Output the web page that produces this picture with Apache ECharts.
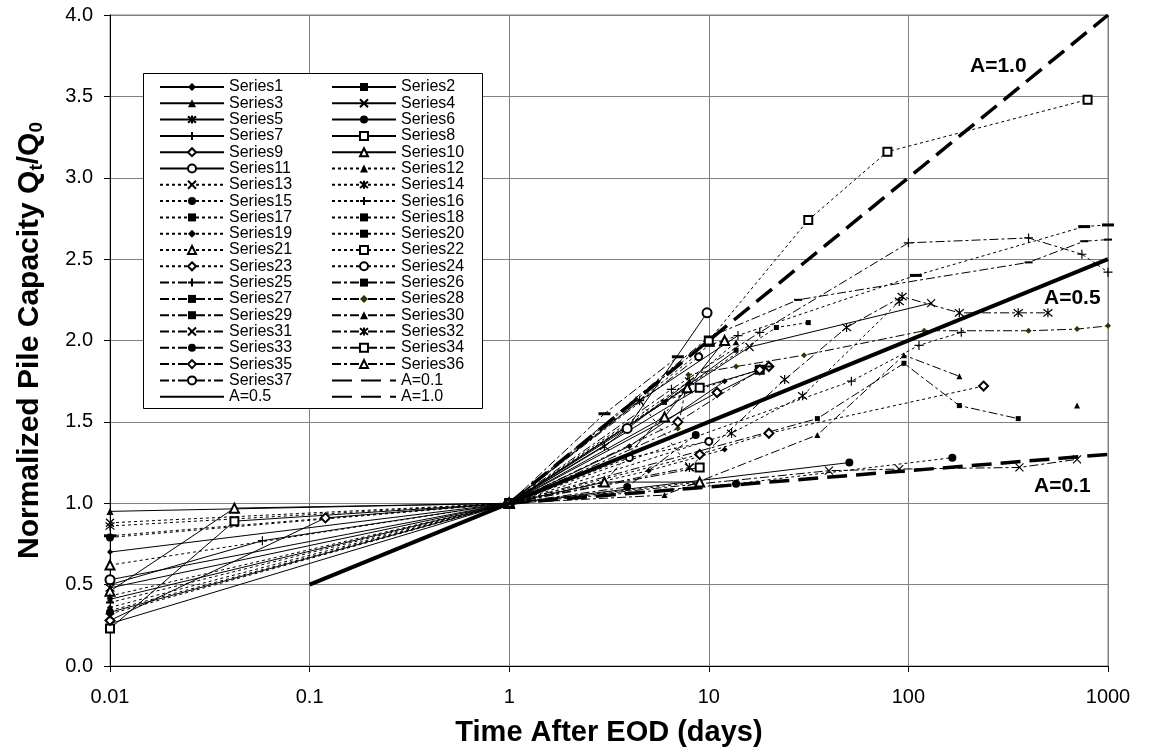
<!DOCTYPE html>
<html><head><meta charset="utf-8">
<script src="https://cdn.jsdelivr.net/npm/echarts@6/dist/echarts.min.js"></script>
<style>html,body{margin:0;padding:0;background:#fff}#c{width:1149px;height:755px}</style>
</head><body><div id="c"></div>
<script>
// ---------- DATA ----------
const xTickLabels = ['0.01','0.1','1','10','100','1000'];
const yTickLabels = ['0.0','0.5','1.0','1.5','2.0','2.5','3.0','3.5','4.0'];

const s1  = [[0.01,0.70],[1,1],[4,1.35],[12,1.75]];
const s2  = [[0.01,0.41],[1,1],[6,1.62],[13.7,1.94]];
const s3  = [[0.01,0.95],[1,1],[3,1.13],[9,1.13]];
const s4  = [[0.01,0.26],[1,1],[16,1.96],[130,2.23]];
const s5  = [[0.01,0.48],[1,1],[3,1.35],[8,1.75]];
const s6  = [[0.01,0.33],[1,1],[50.6,1.25]];
const s7  = [[0.01,0.50],[0.058,0.77],[1,1],[4.5,1.63],[14,2.03]];
const s8  = [[0.01,0.23],[0.042,0.89],[1,1],[9,1.71],[18,1.82]];
const s9  = [[0.01,0.28],[0.12,0.91],[1,1],[11,1.68],[20,1.84]];
const s10 = [[0.01,0.46],[0.042,0.97],[1,1],[6,1.53],[12,2.0]];
const s11 = [[0.01,0.53],[1,1],[3.9,1.46],[9.8,2.17]];
const s12 = [[0.01,0.43],[1,1],[8,1.75],[13.7,1.99]];
const s13 = [[0.01,0.88],[1,1],[4.5,1.63],[8,1.22]];
const s14 = [[0.01,0.86],[1,1],[13,1.43],[29.5,1.66],[90,2.24]];
const s15 = [[0.01,0.79],[1,1],[13.7,1.12],[166,1.28]];
const s16 = [[0.01,0.32],[1,1],[51.8,1.75],[113,1.97],[184,2.05]];
const s17 = [[0.01,0.39],[1,1],[6,1.63],[20,1.84]];
const s18 = [[0.01,0.80],[1,1],[10,1.97],[109,2.40],[760,2.70],[1000,2.71]];
const s19 = [[0.01,0.36],[1,1],[5,1.2],[12,1.33]];
const s20 = [[0.01,0.34],[1,1],[21.8,2.08],[31.5,2.11]];
const s21 = [[0.01,0.62],[1,1],[9,1.13]];
const s22 = [[1,1],[10,2.0],[31.5,2.74],[78.5,3.16],[790,3.48]];
const s23 = [[1,1],[9,1.30],[20,1.43],[238,1.72]];
const s24 = [[1,1],[4,1.28],[10,1.38]];
const s25 = [[1,1],[6.5,1.70],[18,2.05],[100,2.60],[400,2.63],[740,2.53],[1000,2.42]];
const s26 = [[1,1],[10,2.02],[28,2.25],[400,2.48],[760,2.61],[1000,2.62]];
const s27 = [[1,1],[3,1.55],[7,1.90]];
const s28 = [[1,1],[7,1.46],[7.9,1.79],[13.7,1.84],[30,1.91],[120,2.06],[400,2.06],[700,2.07],[1000,2.09]];
const s29 = [[1,1],[35,1.52],[95,1.86],[180,1.60],[355,1.52]];
const s30 = [[1,1],[6,1.05],[35,1.42],[95,1.91],[180,1.78],[400,'-'],[700,1.60]];
const s31 = [[1,1],[40,1.20],[90,1.21],[360,1.22],[700,1.27]];
const s32 = [[1,1],[8,1.22],[24,1.76],[49,2.08],[93,2.27],[180,2.17],[355,2.17],[500,2.17]];
const s33 = [[1,1],[3.9,1.10],[8.6,1.42]];
const s34 = [[1,1],[9,1.22]];
const s35 = [[1,1],[7,1.5],[18,1.82]];
const s36 = [[1,1],[3,1.13],[7.8,1.71]];
const s37 = [[1,1],[8.9,1.90]];
const a01 = [[1,1],[1000,1.3]];
const a05 = [[0.1,0.5],[1000,2.5]];
const a10 = [[1,1],[1000,4.0]];

// ---------- STYLE ----------
const FONT = '"Liberation Sans", Arial, sans-serif';
const X = 'path://M0,0L10,10M10,0L0,10';
const PLUS = 'path://M5,0L5,10M0,5L10,5';
const STAR = 'path://M1,1L9,9M9,1L1,9M5,0L5,10';
const BAR = 'path://M0,0L10,0L10,3L0,3Z';
const SOLID = 'solid', DOT = [3,3], DD = [9,3,3,3];

const defs = [
 ['Series1', s1, SOLID,'diamond',6],['Series2', s2, SOLID,'rect',5],['Series3', s3, SOLID,'triangle',7],
 ['Series4', s4, SOLID,X,8],['Series5', s5, SOLID,STAR,9],['Series6', s6, SOLID,'circle',8],
 ['Series7', s7, SOLID,PLUS,9],['Series8', s8, SOLID,'emptyRect',8],['Series9', s9, SOLID,'emptyDiamond',9],
 ['Series10',s10,SOLID,'emptyTriangle',9],['Series11',s11,SOLID,'emptyCircle',9],
 ['Series12',s12,DOT,'triangle',6],['Series13',s13,DOT,X,8],['Series14',s14,DOT,STAR,9],
 ['Series15',s15,DOT,'circle',8],['Series16',s16,DOT,PLUS,9],['Series17',s17,DOT,BAR,[8,2]],
 ['Series18',s18,DOT,BAR,[12,3]],['Series19',s19,DOT,'diamond',6],['Series20',s20,DOT,'rect',5],
 ['Series21',s21,DOT,'emptyTriangle',9],['Series22',s22,DOT,'emptyRect',8],['Series23',s23,DOT,'emptyDiamond',9],
 ['Series24',s24,DOT,'emptyCircle',7],
 ['Series25',s25,DD,PLUS,9],['Series26',s26,DD,BAR,[8,2]],['Series27',s27,DD,BAR,[12,3]],
 ['Series28',s28,DD,'diamond',6],['Series29',s29,DD,'rect',5],['Series30',s30,DD,'triangle',6],
 ['Series31',s31,DD,X,8],['Series32',s32,DD,STAR,9],['Series33',s33,DD,'circle',8],
 ['Series34',s34,DD,'emptyRect',8],['Series35',s35,DD,'emptyDiamond',9],['Series36',s36,DD,'emptyTriangle',9],
 ['Series37',s37,DD,'emptyCircle',7]
];
const strokeSyms = [X, PLUS, STAR];

const series = defs.map(([name, data, lt, sym, size]) => ({
  name, type:'line', data, symbol: sym, symbolSize: size, showSymbol:true,
  lineStyle:{color:'#000', width:1, type: lt},
  itemStyle: strokeSyms.includes(sym) ? {color:'#000', borderColor:'#000', borderWidth:1.2}
           : (String(sym).startsWith('empty') ? {color:'#000', borderColor:'#000', borderWidth:1} : {color: name==='Series28' ? '#333300' : '#000', borderWidth:0}),
  emphasis:{disabled:true}, animation:false, z:2
}));
series.push({name:'A=0.1', type:'line', data:a01, symbol:'none', lineStyle:{color:'#000', width:3.5, type:[20,9]}, itemStyle:{color:'#000'}, animation:false, z:3});
series.push({name:'A=1.0', type:'line', data:a10, symbol:'none', lineStyle:{color:'#000', width:3.5, type:[20,9]}, itemStyle:{color:'#000'}, animation:false, z:3});
series.push({name:'A=0.5', type:'line', data:a05, symbol:'none', lineStyle:{color:'#000', width:4, type:'solid'}, itemStyle:{color:'#000'}, animation:false, z:3});

const hideSym = n => ({name:n, itemStyle:{opacity:0}});
const leftCol = [], rightCol = [];
for (let i = 1; i <= 37; i++) (i % 2 ? leftCol : rightCol).push('Series' + i);
leftCol.push(hideSym('A=0.5')); rightCol.push(hideSym('A=0.1'), hideSym('A=1.0'));

const legendBase = {orient:'vertical', top:79, itemWidth:64, itemHeight:10, itemGap:0.3, selectedMode:false,
  textStyle:{fontFamily:FONT, fontSize:16, color:'#000'}, z:5, padding:0};

const chart = echarts.init(document.getElementById('c'), null, {renderer:'canvas'});
chart.setOption({
  backgroundColor:'#fff',
  animation:false,
  grid:{left:110, right:41, top:15, bottom:89, show:true, borderColor:'#808080', borderWidth:1},
  xAxis:{type:'log', logBase:10, min:0.01, max:1000,
    axisLine:{show:true, lineStyle:{color:'#000', width:1}},
    axisTick:{show:true, length:6, lineStyle:{color:'#000'}},
    minorTick:{show:false},
    splitLine:{show:true, lineStyle:{color:'#808080', width:1}},
    axisLabel:{fontFamily:FONT, fontSize:20, color:'#000', margin:21,
      formatter:(v, i) => xTickLabels[i]},
    name:'Time After EOD (days)', nameLocation:'middle', nameGap:52,
    nameTextStyle:{fontFamily:FONT, fontSize:29, fontWeight:'bold', color:'#000'}},
  yAxis:{type:'value', min:0, max:4, interval:0.5,
    axisLine:{show:true, lineStyle:{color:'#000', width:1}},
    axisTick:{show:true, length:6, lineStyle:{color:'#000'}},
    splitLine:{show:true, lineStyle:{color:'#808080', width:1}},
    axisLabel:{fontFamily:FONT, fontSize:20, color:'#000', margin:17,
      formatter:(v, i) => yTickLabels[i]},
    name:'{a|Normalized Pile Capacity Q}{s|t}{a|/Q}{s|0}', nameLocation:'middle', nameGap:64, nameRotate:90,
    nameTextStyle:{rich:{
      a:{fontFamily:FONT, fontSize:30, fontWeight:'bold', color:'#000'},
      s:{fontFamily:FONT, fontSize:19, fontWeight:'bold', color:'#000', verticalAlign:'bottom', padding:[13,0,0,0]}}}},
  legend:[
    Object.assign({}, legendBase, {left:159, data:leftCol}),
    Object.assign({}, legendBase, {left:331, data:rightCol})
  ],
  graphic:[
    {type:'rect', z:4, shape:{x:143.5, y:73.5, width:339, height:335}, style:{fill:'#fff', stroke:'#000', lineWidth:1}},
    {type:'text', z:6, x:970, y:56, style:{text:'A=1.0', font:'bold 21px ' + FONT, fill:'#000'}},
    {type:'text', z:6, x:1044, y:288, style:{text:'A=0.5', font:'bold 21px ' + FONT, fill:'#000'}},
    {type:'text', z:6, x:1034, y:476, style:{text:'A=0.1', font:'bold 21px ' + FONT, fill:'#000'}}
  ],
  series
});
</script></body></html>
